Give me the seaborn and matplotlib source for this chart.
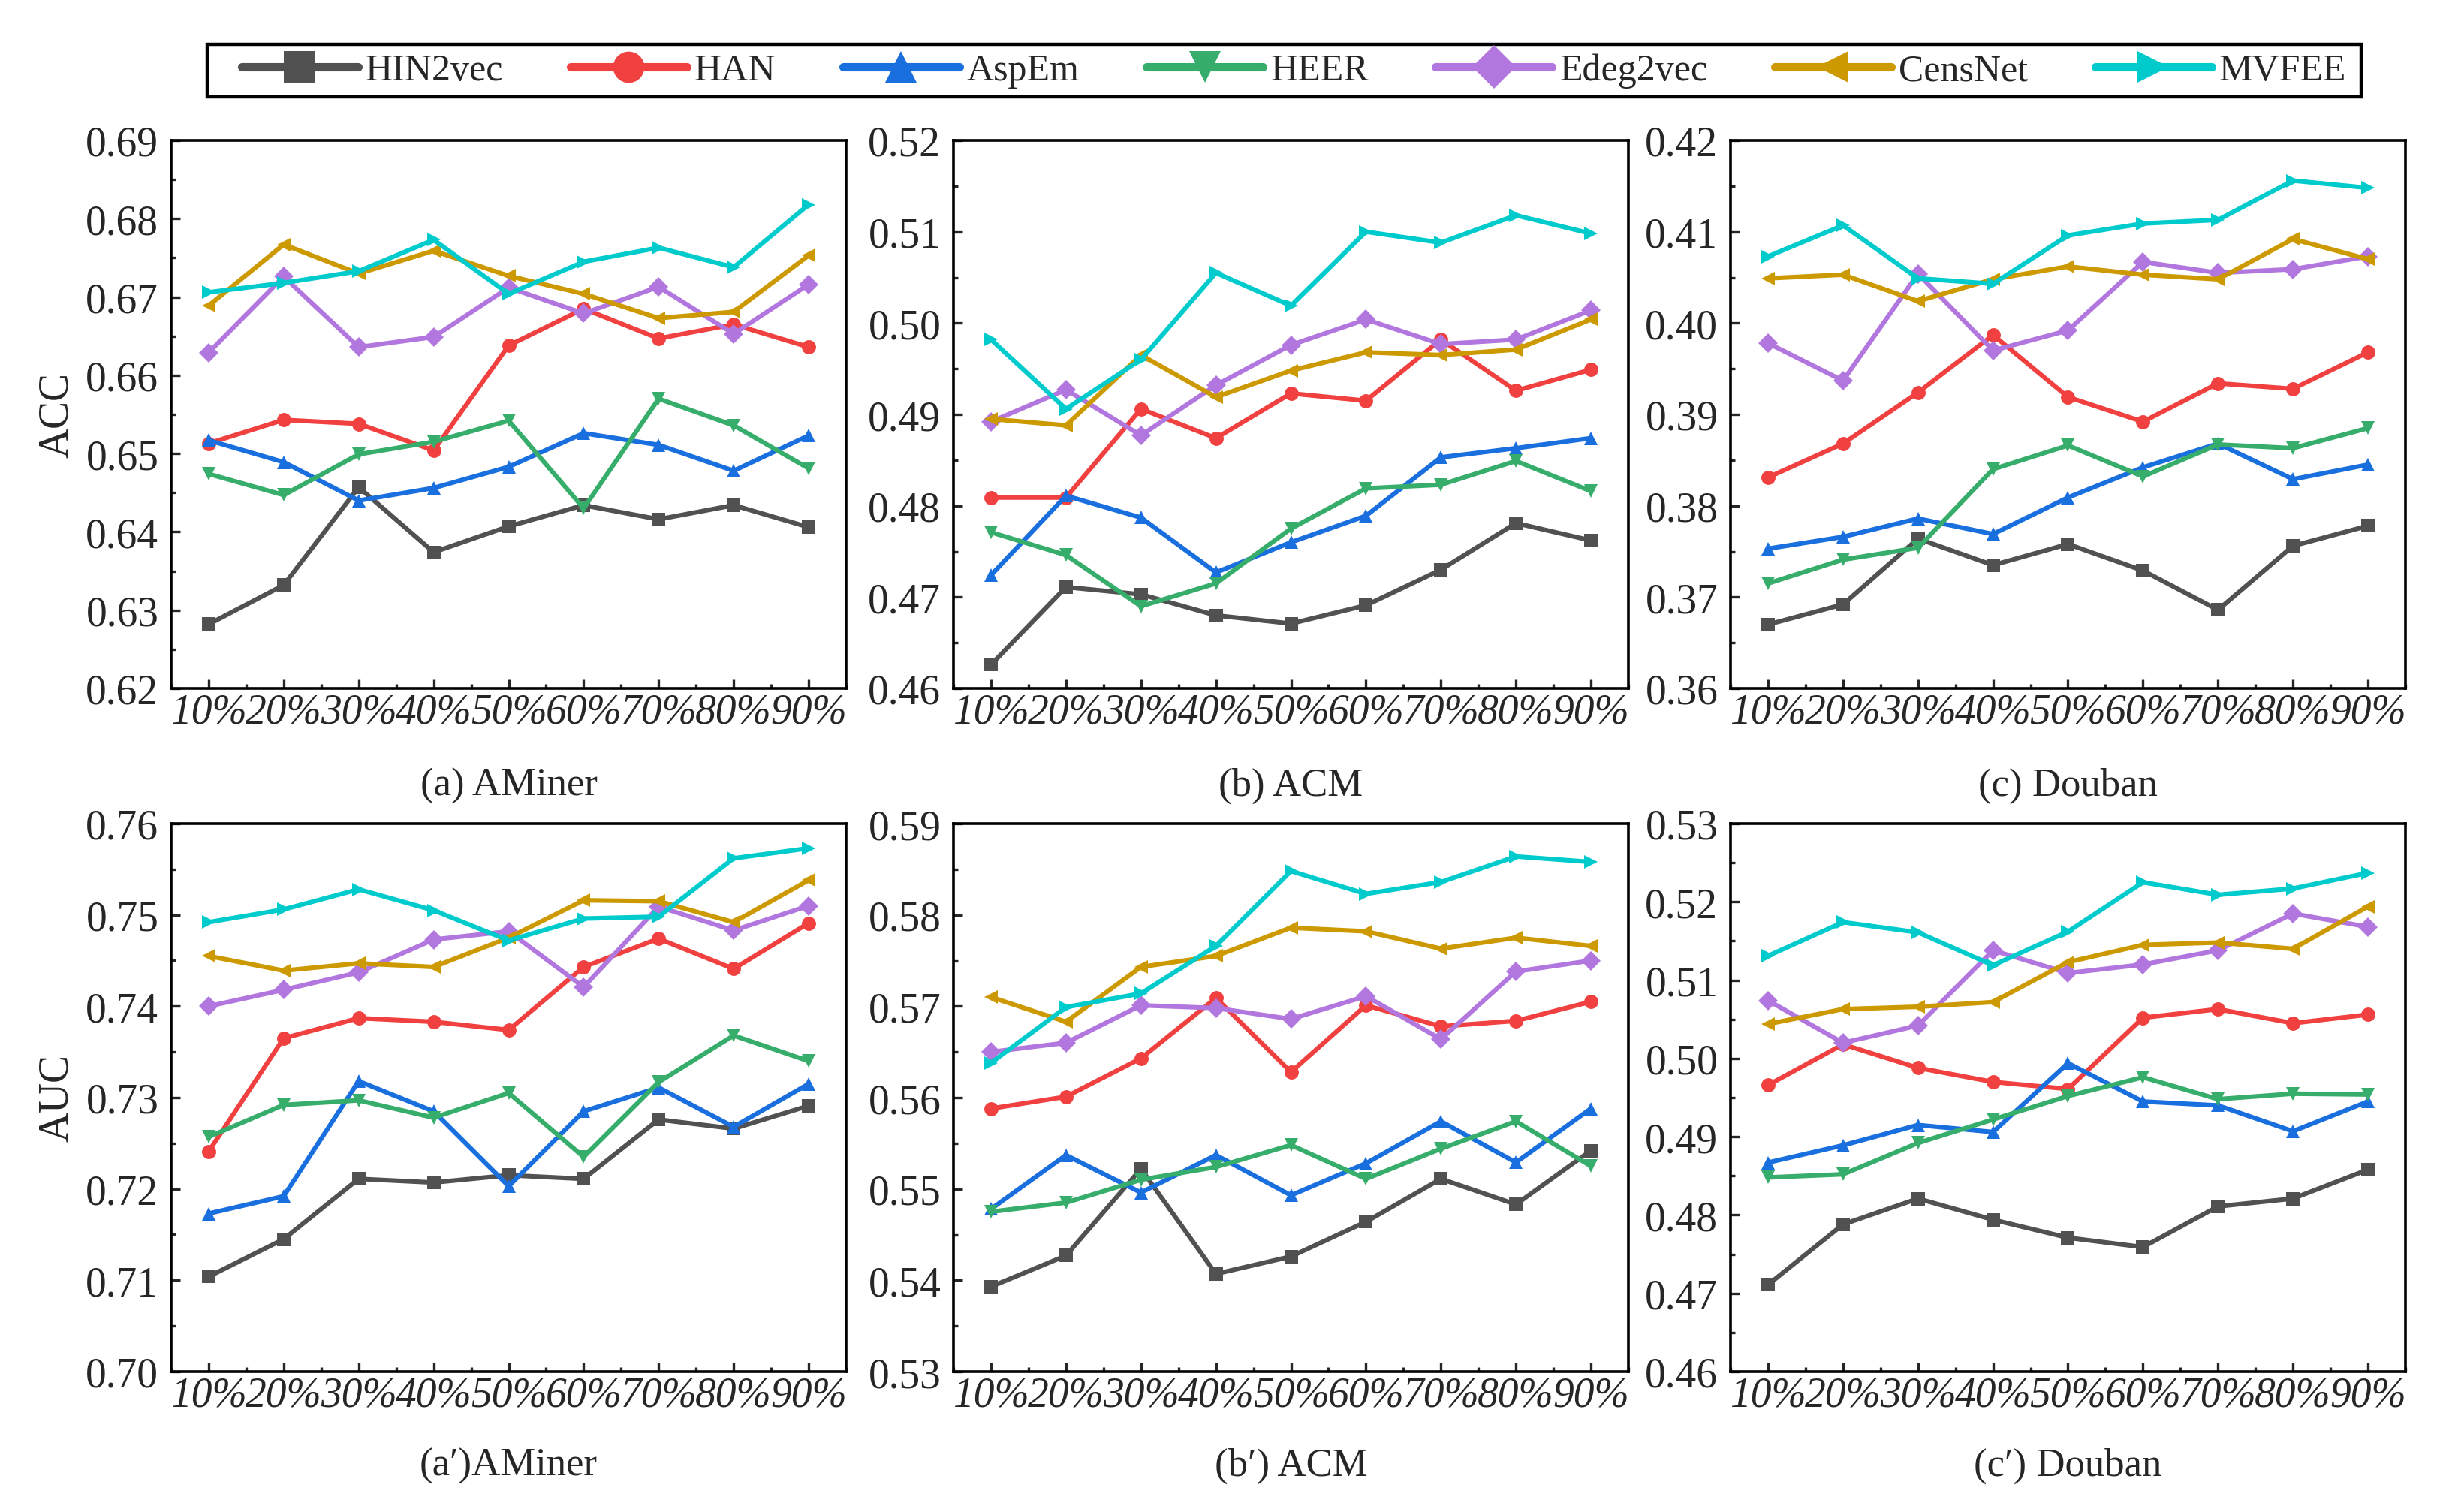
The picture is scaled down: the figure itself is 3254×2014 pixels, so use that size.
import numpy as np
import pandas as pd
import matplotlib
matplotlib.use("Agg")
import matplotlib.pyplot as plt
from matplotlib.lines import Line2D
from matplotlib.patches import Rectangle
from matplotlib.ticker import MultipleLocator
import seaborn as sns

# ---------------- data ----------------
ratios = ["10%", "20%", "30%", "40%", "50%", "60%", "70%", "80%", "90%"]
methods = ["HIN2vec", "HAN", "AspEm", "HEER", "Edeg2vec", "CensNet", "MVFEE"]

# (a) AMiner ACC
acc_aminer_hin2vec = [0.6282, 0.6332, 0.6457, 0.6374, 0.6407, 0.6434, 0.6416, 0.6434, 0.6406]
acc_aminer_han = [0.6513, 0.6543, 0.6538, 0.6504, 0.6638, 0.6685, 0.6647, 0.6665, 0.6636]
acc_aminer_aspem = [0.6517, 0.6489, 0.6440, 0.6456, 0.6483, 0.6526, 0.6511, 0.6478, 0.6523]
acc_aminer_heer = [0.6474, 0.6447, 0.6499, 0.6515, 0.6542, 0.6430, 0.6570, 0.6536, 0.6481]
acc_aminer_edeg2vec = [0.6629, 0.6726, 0.6636, 0.6649, 0.6712, 0.6679, 0.6713, 0.6653, 0.6716]
acc_aminer_censnet = [0.6689, 0.6767, 0.6730, 0.6759, 0.6727, 0.6704, 0.6673, 0.6681, 0.6753]
acc_aminer_mvfee = [0.6706, 0.6718, 0.6733, 0.6773, 0.6704, 0.6745, 0.6763, 0.6738, 0.6818]

# (b) ACM ACC
acc_acm_hin2vec = [0.4626, 0.4711, 0.4703, 0.4680, 0.4671, 0.4691, 0.4730, 0.4781, 0.4762]
acc_acm_han = [0.4809, 0.4809, 0.4906, 0.4874, 0.4923, 0.4915, 0.4982, 0.4926, 0.4949]
acc_acm_aspem = [0.4724, 0.4811, 0.4787, 0.4727, 0.4760, 0.4789, 0.4853, 0.4863, 0.4874]
acc_acm_heer = [0.4771, 0.4746, 0.4690, 0.4715, 0.4775, 0.4819, 0.4823, 0.4849, 0.4816]
acc_acm_edeg2vec = [0.4892, 0.4927, 0.4877, 0.4932, 0.4976, 0.5004, 0.4977, 0.4982, 0.5014]
acc_acm_censnet = [0.4895, 0.4888, 0.4965, 0.4919, 0.4948, 0.4968, 0.4965, 0.4971, 0.5004]
acc_acm_mvfee = [0.4982, 0.4906, 0.4960, 0.5055, 0.5019, 0.5100, 0.5088, 0.5118, 0.5098]

# (c) Douban ACC
acc_douban_hin2vec = [0.3670, 0.3692, 0.3764, 0.3735, 0.3758, 0.3729, 0.3686, 0.3756, 0.3778]
acc_douban_han = [0.3831, 0.3868, 0.3924, 0.3987, 0.3919, 0.3892, 0.3934, 0.3928, 0.3968]
acc_douban_aspem = [0.3753, 0.3766, 0.3786, 0.3769, 0.3809, 0.3842, 0.3868, 0.3829, 0.3845]
acc_douban_heer = [0.3715, 0.3741, 0.3754, 0.3840, 0.3866, 0.3832, 0.3867, 0.3863, 0.3885]
acc_douban_edeg2vec = [0.3978, 0.3937, 0.4054, 0.3970, 0.3992, 0.4067, 0.4055, 0.4059, 0.4073]
acc_douban_censnet = [0.4049, 0.4053, 0.4024, 0.4048, 0.4062, 0.4053, 0.4048, 0.4092, 0.4070]
acc_douban_mvfee = [0.4073, 0.4107, 0.4049, 0.4043, 0.4096, 0.4109, 0.4113, 0.4156, 0.4148]

# (a') AMiner AUC
auc_aminer_hin2vec = [0.7104, 0.7145, 0.7211, 0.7207, 0.7215, 0.7211, 0.7276, 0.7266, 0.7291]
auc_aminer_han = [0.7241, 0.7365, 0.7387, 0.7383, 0.7374, 0.7443, 0.7474, 0.7441, 0.7491]
auc_aminer_aspem = [0.7173, 0.7192, 0.7318, 0.7285, 0.7203, 0.7285, 0.7311, 0.7268, 0.7315]
auc_aminer_heer = [0.7257, 0.7292, 0.7297, 0.7278, 0.7305, 0.7235, 0.7317, 0.7368, 0.7340]
auc_aminer_edeg2vec = [0.7400, 0.7418, 0.7437, 0.7473, 0.7482, 0.7421, 0.7509, 0.7483, 0.7510]
auc_aminer_censnet = [0.7455, 0.7439, 0.7447, 0.7443, 0.7475, 0.7516, 0.7515, 0.7492, 0.7538]
auc_aminer_mvfee = [0.7492, 0.7506, 0.7528, 0.7505, 0.7472, 0.7496, 0.7498, 0.7562, 0.7573]

# (b') ACM AUC
auc_acm_hin2vec = [0.5393, 0.5427, 0.5522, 0.5407, 0.5426, 0.5464, 0.5511, 0.5483, 0.5542]
auc_acm_han = [0.5588, 0.5601, 0.5643, 0.5709, 0.5628, 0.5701, 0.5678, 0.5684, 0.5705]
auc_acm_aspem = [0.5478, 0.5537, 0.5496, 0.5537, 0.5493, 0.5528, 0.5574, 0.5529, 0.5588]
auc_acm_heer = [0.5475, 0.5485, 0.5510, 0.5524, 0.5548, 0.5511, 0.5544, 0.5574, 0.5525]
auc_acm_edeg2vec = [0.5650, 0.5660, 0.5701, 0.5698, 0.5686, 0.5711, 0.5664, 0.5738, 0.5750]
auc_acm_censnet = [0.5710, 0.5683, 0.5743, 0.5755, 0.5786, 0.5782, 0.5763, 0.5775, 0.5766]
auc_acm_mvfee = [0.5638, 0.5699, 0.5714, 0.5766, 0.5848, 0.5823, 0.5836, 0.5864, 0.5858]

# (c') Douban AUC
auc_douban_hin2vec = [0.4711, 0.4788, 0.4821, 0.4794, 0.4771, 0.4759, 0.4811, 0.4821, 0.4858]
auc_douban_han = [0.4966, 0.5018, 0.4988, 0.4970, 0.4961, 0.5052, 0.5063, 0.5045, 0.5056]
auc_douban_aspem = [0.4867, 0.4889, 0.4915, 0.4906, 0.4994, 0.4945, 0.4940, 0.4907, 0.4945]
auc_douban_heer = [0.4848, 0.4852, 0.4892, 0.4922, 0.4952, 0.4976, 0.4948, 0.4955, 0.4954]
auc_douban_edeg2vec = [0.5074, 0.5020, 0.5042, 0.5138, 0.5109, 0.5120, 0.5138, 0.5185, 0.5168]
auc_douban_censnet = [0.5044, 0.5063, 0.5066, 0.5072, 0.5123, 0.5145, 0.5148, 0.5140, 0.5194]
auc_douban_mvfee = [0.5131, 0.5174, 0.5161, 0.5119, 0.5162, 0.5225, 0.5209, 0.5217, 0.5237]

panel_titles = ["(a) AMiner", "(b) ACM", "(c) Douban",
                "(a\u2032)AMiner", "(b\u2032) ACM", "(c\u2032) Douban"]
y_labels = ["ACC", "AUC"]
y_limits = [(0.62, 0.69), (0.46, 0.52), (0.36, 0.42),
            (0.70, 0.76), (0.53, 0.59), (0.46, 0.53)]

panels = [
    [acc_aminer_hin2vec, acc_aminer_han, acc_aminer_aspem, acc_aminer_heer,
     acc_aminer_edeg2vec, acc_aminer_censnet, acc_aminer_mvfee],
    [acc_acm_hin2vec, acc_acm_han, acc_acm_aspem, acc_acm_heer,
     acc_acm_edeg2vec, acc_acm_censnet, acc_acm_mvfee],
    [acc_douban_hin2vec, acc_douban_han, acc_douban_aspem, acc_douban_heer,
     acc_douban_edeg2vec, acc_douban_censnet, acc_douban_mvfee],
    [auc_aminer_hin2vec, auc_aminer_han, auc_aminer_aspem, auc_aminer_heer,
     auc_aminer_edeg2vec, auc_aminer_censnet, auc_aminer_mvfee],
    [auc_acm_hin2vec, auc_acm_han, auc_acm_aspem, auc_acm_heer,
     auc_acm_edeg2vec, auc_acm_censnet, auc_acm_mvfee],
    [auc_douban_hin2vec, auc_douban_han, auc_douban_aspem, auc_douban_heer,
     auc_douban_edeg2vec, auc_douban_censnet, auc_douban_mvfee],
]

# ---------------- style ----------------
colors = ["#515151", "#F14040", "#1A6FDF", "#37AD6B", "#B177DE", "#CC9900", "#00CBCC"]
markers = ["s", "o", "^", "v", "D", "<", ">"]
palette = dict(zip(methods, colors))
marker_map = dict(zip(methods, markers))

sns.set_theme(style="ticks")
plt.rcParams["font.family"] = ["Liberation Serif", "DejaVu Serif"]
plt.rcParams["font.serif"] = ["Liberation Serif", "DejaVu Serif"]

W, H = 3255, 2015
fig = plt.figure(figsize=(W / 200, H / 200), dpi=200)

col_left_px = [228, 1270, 2305]
col_w_px = 899
row_top_px = [188, 1098]
row_h_px = 730

for i, series in enumerate(panels):
    r, c = divmod(i, 3)
    left = col_left_px[c] / W
    bottom = 1 - (row_top_px[r] + row_h_px) / H
    ax = fig.add_axes([left, bottom, col_w_px / W, row_h_px / H])

    rows = []
    for m, vals in zip(methods, series):
        for x, v in zip(ratios, vals):
            rows.append({"ratio": x, "value": v, "method": m})
    df = pd.DataFrame(rows)

    sns.lineplot(data=df, x="ratio", y="value", hue="method", style="method",
                 hue_order=methods, style_order=methods, palette=palette,
                 markers=marker_map, dashes=False, sort=False, legend=False,
                 linewidth=2.2, markersize=6.8, markeredgewidth=0, ax=ax)

    lo, hi = y_limits[i]
    yt = np.round(np.arange(lo, hi + 1e-9, 0.01), 2)
    ax.set_xlim(-0.5, 8.5)
    ax.set_xticks(range(len(ratios)))
    ax.set_xticklabels(ratios, fontsize=20, style="italic", family="Liberation Serif")
    ax.set_yticks(yt)
    ax.set_yticklabels([f"{t:.2f}" for t in yt], fontsize=20, family="Liberation Serif")
    ax.set_ylim(lo, hi)
    ax.yaxis.set_minor_locator(MultipleLocator(0.005))
    ax.xaxis.set_minor_locator(MultipleLocator(0.5))
    ax.tick_params(axis="both", which="major", direction="in", length=4.3, width=1.2,
                   top=False, right=False)
    ax.tick_params(axis="both", which="minor", direction="in", length=2.0, width=1.2,
                   top=False, right=False)
    ax.tick_params(axis="y", which="major", pad=6)
    ax.tick_params(axis="x", which="major", pad=2)
    for sp in ax.spines.values():
        sp.set_linewidth(1.3)
        sp.set_color("black")
    ax.set_xlabel("")
    if c == 0:
        ax.set_ylabel(y_labels[r], fontsize=20, labelpad=4.5, family="Liberation Serif")
    else:
        ax.set_ylabel("")

    cx = left + col_w_px / W / 2
    ty = 1 - 1047 / H if r == 0 else 1 - 1953 / H
    fig.text(cx, ty, panel_titles[i], ha="center", va="center", fontsize=19,
             family=["Liberation Serif", "DejaVu Serif"])

# legend (frame drawn separately so the inner padding matches)
handles = [Line2D([], [], color=col, marker=mk, lw=4, markersize=15,
                  markeredgewidth=0) for col, mk in zip(colors, markers)]
leg = fig.legend(handles, methods, loc="center", ncol=7, mode="expand",
                 bbox_to_anchor=(322 / W, 1 - 130 / H, (3125 - 322) / W, 70 / H),
                 frameon=False, handlelength=3.1,
                 handletextpad=0.2, borderpad=0.0, borderaxespad=0,
                 prop={"family": "Liberation Serif", "size": 18})
fig.add_artist(Rectangle((276 / W, 1 - 130 / H), (3145 - 276) / W, 70 / H,
                         transform=fig.transFigure, fill=False,
                         edgecolor="black", linewidth=1.6))

fig.savefig("out.png", dpi=200, facecolor="white")
